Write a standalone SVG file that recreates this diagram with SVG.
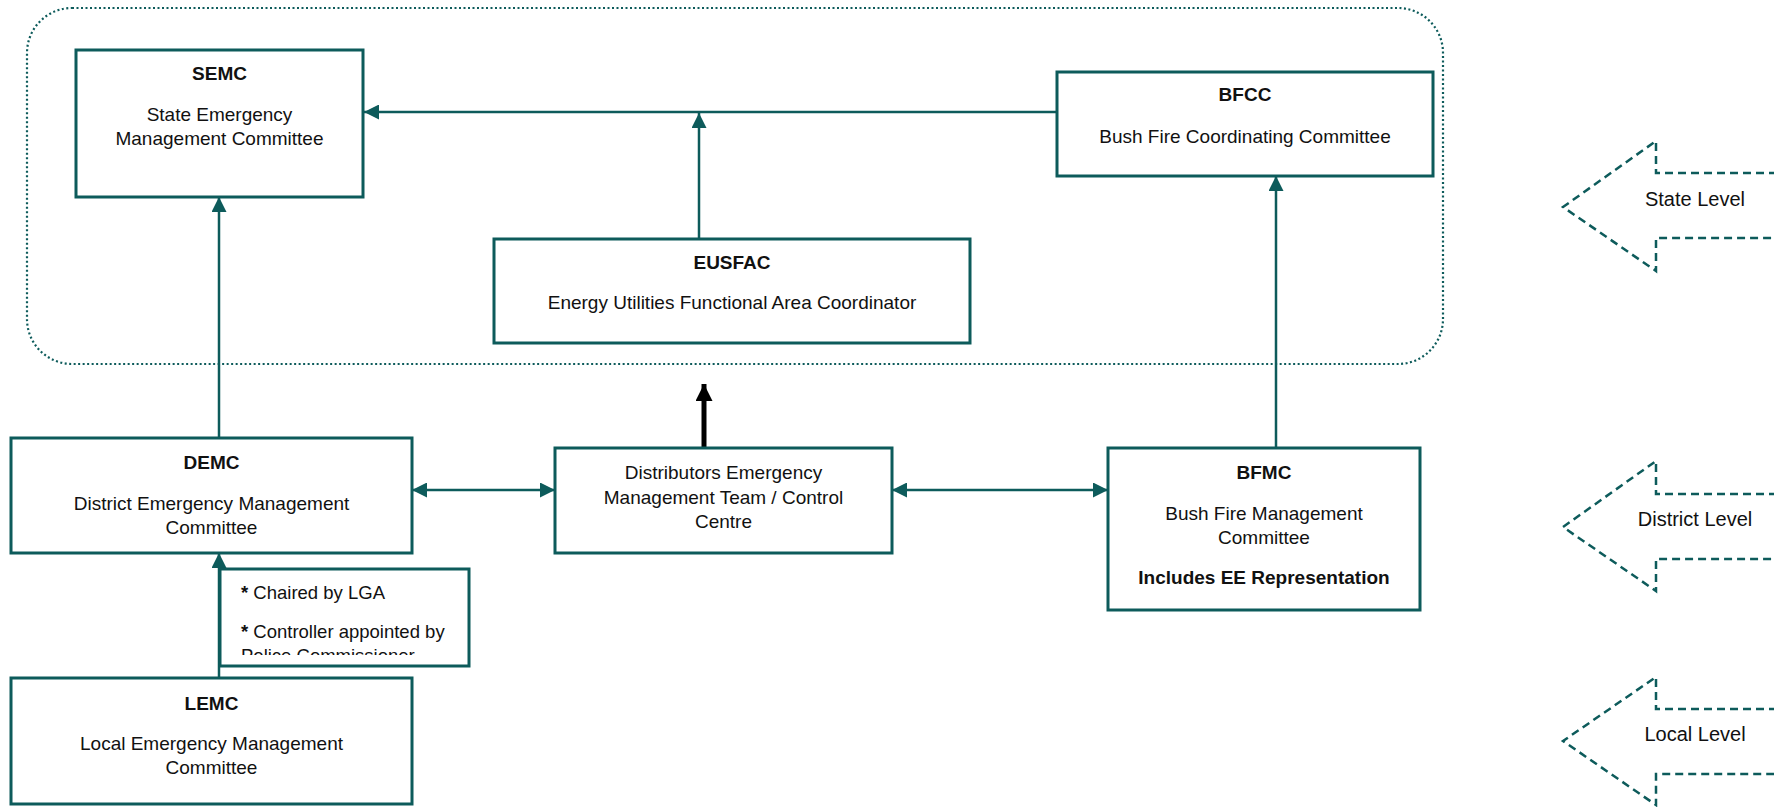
<svg xmlns="http://www.w3.org/2000/svg" width="1774" height="807" viewBox="0 0 1774 807">
<style>
.box{fill:#fff;stroke:#0d5b5b;stroke-width:3}
.con{stroke:#0d5b5b;stroke-width:2.5;fill:none}
.t{font-family:"Liberation Sans",Arial,sans-serif;font-size:19px;fill:#111;text-anchor:middle}
.b{font-weight:bold}
.lt{font-size:20px}
.lvl{fill:none;stroke:#0d5b5b;stroke-width:2.5;stroke-dasharray:8 5}
.zone{fill:none;stroke:#0d5b5b;stroke-width:2.2;stroke-dasharray:2 2.5}
</style>
<defs>
<marker id="ah" viewBox="0 0 10 10" refX="10" refY="5" markerUnits="userSpaceOnUse" markerWidth="16" markerHeight="15" orient="auto-start-reverse">
<path d="M0,0 L10,5 L0,10 z" fill="#0d5b5b"/>
</marker>
<marker id="ahk" viewBox="0 0 10 10" refX="10" refY="5" markerUnits="userSpaceOnUse" markerWidth="18" markerHeight="17" orient="auto">
<path d="M0,0 L10,5 L0,10 z" fill="#000"/>
</marker>
<clipPath id="noteclip"><rect x="220" y="569" width="249" height="86"/></clipPath>
</defs>

<g id="state-zone">
<rect class="zone" x="27" y="8" width="1416" height="356" rx="45" ry="45"/>
</g>

<g id="connectors">
<line class="con" x1="1057" y1="112" x2="364" y2="112" marker-end="url(#ah)"/>
<line class="con" x1="699" y1="239" x2="699" y2="113" marker-end="url(#ah)"/>
<line class="con" x1="219" y1="438" x2="219" y2="197" marker-end="url(#ah)"/>
<line class="con" x1="219" y1="678" x2="219" y2="553" marker-end="url(#ah)"/>
<line class="con" x1="1276" y1="448" x2="1276" y2="176" marker-end="url(#ah)"/>
<line class="con" x1="412" y1="490" x2="555" y2="490" marker-start="url(#ah)" marker-end="url(#ah)"/>
<line class="con" x1="892" y1="490" x2="1108" y2="490" marker-start="url(#ah)" marker-end="url(#ah)"/>
<line x1="704" y1="448" x2="704" y2="384" stroke="#000" stroke-width="5" marker-end="url(#ahk)"/>
</g>

<g id="semc">
<rect class="box" x="76" y="50" width="287" height="147"/>
<text class="t b" x="219.5" y="80">SEMC</text>
<text class="t" x="219.5" y="121">State Emergency</text>
<text class="t" x="219.5" y="145">Management Committee</text>
</g>

<g id="bfcc">
<rect class="box" x="1057" y="72" width="376" height="104"/>
<text class="t b" x="1245" y="101">BFCC</text>
<text class="t" x="1245" y="143">Bush Fire Coordinating Committee</text>
</g>

<g id="eusfac">
<rect class="box" x="494" y="239" width="476" height="104"/>
<text class="t b" x="732" y="269">EUSFAC</text>
<text class="t" x="732" y="309">Energy Utilities Functional Area Coordinator</text>
</g>

<g id="demc">
<rect class="box" x="11" y="438" width="401" height="115"/>
<text class="t b" x="211.5" y="469">DEMC</text>
<text class="t" x="211.5" y="510">District Emergency Management</text>
<text class="t" x="211.5" y="534">Committee</text>
</g>

<g id="distributors">
<rect class="box" x="555" y="448" width="337" height="105"/>
<text class="t" x="723.5" y="479">Distributors Emergency</text>
<text class="t" x="723.5" y="504">Management Team / Control</text>
<text class="t" x="723.5" y="528">Centre</text>
</g>

<g id="bfmc">
<rect class="box" x="1108" y="448" width="312" height="162"/>
<text class="t b" x="1264" y="479">BFMC</text>
<text class="t" x="1264" y="520">Bush Fire Management</text>
<text class="t" x="1264" y="544">Committee</text>
<text class="t b" x="1264" y="584">Includes EE Representation</text>
</g>

<g id="note">
<rect class="box" x="220" y="569" width="249" height="97"/>
<g clip-path="url(#noteclip)">
<text class="t" x="241" y="599" style="text-anchor:start;font-size:18.5px"><tspan font-weight="bold">*</tspan> Chaired by LGA</text>
<text class="t" x="241" y="638" style="text-anchor:start;font-size:18.5px"><tspan font-weight="bold">*</tspan> Controller appointed by</text>
<text class="t" x="241" y="662" style="text-anchor:start;font-size:18.5px">Police Commissioner</text>
</g>
</g>

<g id="lemc">
<rect class="box" x="11" y="678" width="401" height="126"/>
<text class="t b" x="211.5" y="710">LEMC</text>
<text class="t" x="211.5" y="750">Local Emergency Management</text>
<text class="t" x="211.5" y="774">Committee</text>
</g>

<g id="state-level">
<path class="lvl" d="M1790,173 L1656,173 L1656,141 L1563,207 L1656,271 L1656,238 L1790,238"/>
<text class="t lt" x="1695" y="206">State Level</text>
</g>

<g id="district-level">
<path class="lvl" d="M1790,494 L1656,494 L1656,461 L1563,527 L1656,591 L1656,559 L1790,559"/>
<text class="t lt" x="1695" y="526">District Level</text>
</g>

<g id="local-level">
<path class="lvl" d="M1790,709 L1656,709 L1656,677 L1563,741 L1656,805 L1656,774 L1790,774"/>
<text class="t lt" x="1695" y="741">Local Level</text>
</g>
</svg>
